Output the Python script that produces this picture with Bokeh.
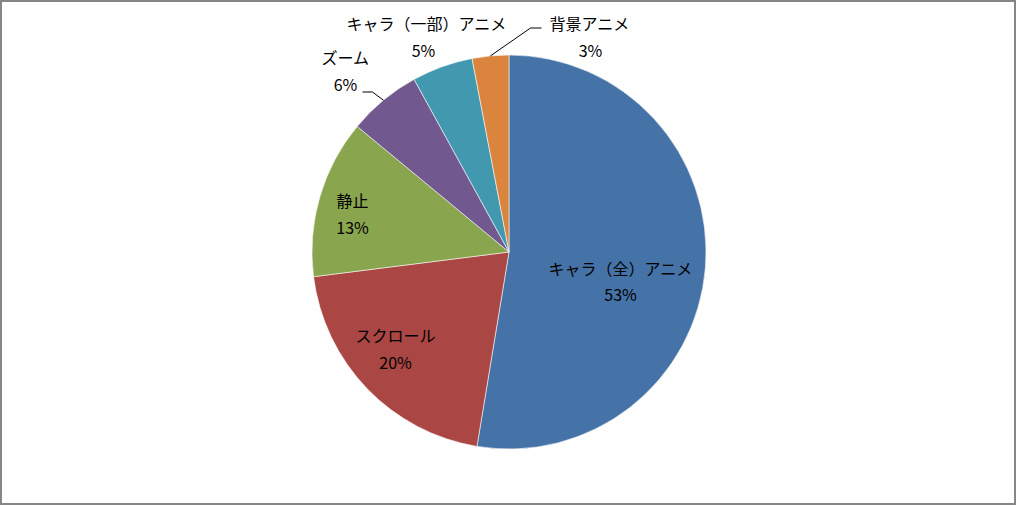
import math
from bokeh.plotting import figure
from bokeh.models import Range1d
from bokeh.core.properties import value
from bokeh.embed import file_html
from bokeh.resources import INLINE

# ---- data ----
categories = ["キャラ（全）アニメ", "スクロール", "静止", "ズーム", "キャラ（一部）アニメ", "背景アニメ"]
shares = [52.6, 20.4, 13.0, 6.0, 5.0, 3.0]
pct_labels = ["53%", "20%", "13%", "6%", "5%", "3%"]
colors = ["#4572A7", "#AA4643", "#89A54E", "#71588F", "#4198AF", "#DB843D"]

# ---- layout (pixels) ----
W, H = 1016, 505
CX, CY, R = 508.5, 253.5, 197.0   # pie centre (y measured up from bottom) and radius
FONT = value("Noto Sans CJK JP")

# label centres relative to pie centre: (dx, dy_down)
label_offsets = [(111.5, 16), (-113.5, 83), (-156.5, -52), (-163.5, -195), (-82.5, -229), (80.5, -229)]
pct_offsets = [(111.5, 42), (-113.5, 110), (-156.5, -25), (-163.5, -168), (-85.5, -202), (81.5, -202)]
# leader lines: (category index, elbow offset, end offset) relative to centre, y down
leaders = [(3, (-136.5, -160), (-146.5, -160)), (5, (21.5, -224), (32.5, -224))]

p = figure(width=W, height=H, output_backend="svg", toolbar_location=None,
           x_range=Range1d(0, W), y_range=Range1d(0, H), min_border=0)
p.axis.visible = False
p.grid.visible = False
p.outline_line_color = "#868686"
p.outline_line_width = 3
p.background_fill_color = "white"
p.border_fill_color = "white"

total = sum(shares)
cum = 0.0
mids = []
for i, v in enumerate(shares):
    a0 = math.pi / 2 - 2 * math.pi * cum / total
    cum += v
    a1 = math.pi / 2 - 2 * math.pi * cum / total
    mids.append((a0 + a1) / 2)
    p.wedge(x=CX, y=CY, radius=R, start_angle=a0, end_angle=a1, direction="clock",
            fill_color=colors[i], line_color="white", line_width=0.8, line_alpha=0.7)

for i, name in enumerate(categories):
    dx, dy = label_offsets[i]
    p.text(x=[CX + dx], y=[CY - dy], text=[name], text_font=FONT, text_font_size="16px",
           text_color="#000000", text_align="center", text_baseline="middle")
    dx, dy = pct_offsets[i]
    p.text(x=[CX + dx], y=[CY - dy], text=[pct_labels[i]], text_font=FONT, text_font_size="16px",
           text_color="#000000", text_align="center", text_baseline="middle")

for idx, e1, e2 in leaders:
    m = mids[idx]
    sx, sy = CX + R * math.cos(m), CY + R * math.sin(m)
    p.line(x=[sx, CX + e1[0], CX + e2[0]], y=[sy, CY - e1[1], CY - e2[1]],
           line_color="#000000", line_width=1)

open("out.html", "w").write(file_html(p, INLINE))
